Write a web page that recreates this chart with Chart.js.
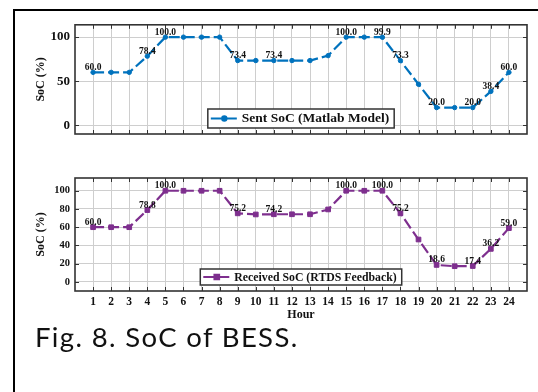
<!DOCTYPE html>
<html>
<head>
<meta charset="utf-8">
<script src="https://cdn.jsdelivr.net/npm/chart.js@4"></script>
<style>
body{margin:0;background:#fff;width:538px;height:392px;overflow:hidden;position:relative}
#frame{position:absolute;left:13px;top:9px;width:600px;height:500px;border-top:2px solid #000;border-left:2px solid #000}
#c1{position:absolute;left:14px;top:12px}
#c2{position:absolute;left:14px;top:160px}
#caption{position:absolute;left:35px;top:323px;font-family:Lato;font-size:27.5px;line-height:27.5px;letter-spacing:1.35px;color:#111;white-space:nowrap}
</style>
</head>
<body>
<div id="frame"></div>
<canvas id="c1" width="524" height="140"></canvas>
<canvas id="c2" width="524" height="170"></canvas>
<div id="caption">Fig. 8. SoC of BESS.</div>
<script>
const hours=[1,2,3,4,5,6,7,8,9,10,11,12,13,14,15,16,17,18,19,20,21,22,23,24]
const sentSoC=[60,60,60,78.4,100,100,100,100,73.4,73.4,73.4,73.4,73.4,79,100,100,99.9,73.3,46.5,20,20,20,38.4,60]
const receivedSoC=[60,60,60,78.8,100,100,100,100,75.2,74,74.2,74.2,74.2,79.5,100,100,100,75.2,46.5,18.6,17.2,17.4,36.2,59]
const labeledHours=[1,4,5,9,11,15,17,18,20,22,23,24]
const yTicksSent=[0,50,100]
const yTicksReceived=[0,20,40,60,80,100]

const serif="Liberation Serif"

// inward tick marks + box around the plot
const frameTicks={
id:"frameTicks",
afterDraw(chart){
const {ctx,chartArea:a,scales}=chart
ctx.save()
ctx.strokeStyle="#333"
ctx.lineWidth=1
ctx.beginPath()
scales.x.ticks.forEach(t=>{
let px=Math.round(scales.x.getPixelForValue(t.value))+0.5
ctx.moveTo(px,a.top);ctx.lineTo(px,a.top+4)
ctx.moveTo(px,a.bottom);ctx.lineTo(px,a.bottom-4)
})
scales.y.ticks.forEach(t=>{
let py=Math.round(scales.y.getPixelForValue(t.value))+0.5
ctx.moveTo(a.left,py);ctx.lineTo(a.left+4,py)
ctx.moveTo(a.right,py);ctx.lineTo(a.right-4,py)
})
ctx.stroke()
ctx.lineWidth=1.6
ctx.strokeRect(a.left,a.top,a.right-a.left,a.bottom-a.top)
ctx.restore()
}
}

const valueLabels={
id:"valueLabels",
afterDatasetsDraw(chart){
const ctx=chart.ctx
const meta=chart.getDatasetMeta(0)
const ds=chart.data.datasets[0]
ctx.save()
ctx.font="bold 9.5px "+serif
ctx.fillStyle="#111"
ctx.textAlign="center"
ctx.textBaseline="alphabetic"
meta.data.forEach((pt,i)=>{
if(!labeledHours.includes(ds.data[i].x)) return
ctx.fillText(ds.data[i].y.toFixed(1),pt.x,pt.y-2.5)
})
ctx.restore()
}
}

const boxLegend={
id:"boxLegend",
afterDraw(chart){
const {ctx,chartArea:a}=chart
const ds=chart.data.datasets[0]
const lg=chart.options.plugins.boxLegend
ctx.save()
ctx.font="bold "+lg.size+"px "+serif
let tw=ctx.measureText(ds.label).width
let w=3+27+4+tw+5
let h=lg.h
let x=(a.left+a.right)/2-w/2
let y=a.bottom-6-h
ctx.fillStyle="#fff"
ctx.fillRect(x,y,w,h)
ctx.strokeStyle="#333"
ctx.lineWidth=1.5
ctx.strokeRect(x,y,w,h)
let cy=y+h/2
ctx.strokeStyle=ds.borderColor
ctx.lineWidth=2
ctx.setLineDash([11,4])
ctx.beginPath()
ctx.moveTo(x+3,cy);ctx.lineTo(x+30,cy)
ctx.stroke()
ctx.setLineDash([])
ctx.fillStyle=ds.borderColor
Chart.helpers.drawPoint(ctx,{pointStyle:ds.pointStyle,radius:ds.pointRadius,rotation:0,borderWidth:1},x+16.5,cy)
ctx.fillStyle="#111"
ctx.textBaseline="middle"
ctx.fillText(ds.label,x+34,cy+0.5)
ctx.restore()
}
}

function makeChart(id,label,values,color,pointStyle,pointRadius,yTicks,cfg){

return new Chart(document.getElementById(id),{

type:"line",

data:{
datasets:[{
label:label,
data:hours.map((h,i)=>({x:h,y:values[i]})),
borderColor:color,
backgroundColor:color,
borderWidth:2.2,
borderDash:[11,4],
pointStyle:pointStyle,
pointRadius:pointRadius,
pointBorderWidth:1,
pointBorderColor:color,
pointBackgroundColor:color,
tension:0
}]
},

options:{
responsive:false,
animation:false,
layout:{padding:{top:cfg.top,right:11,left:0,bottom:0}},
plugins:{legend:{display:false},tooltip:{enabled:false},boxLegend:{size:cfg.legSize,h:cfg.legH}},
scales:{
x:{
type:"linear",min:0,max:25,
afterBuildTicks:s=>{s.ticks=hours.map(v=>({value:v}))},
afterFit:s=>{s.height=cfg.xHeight},
grid:{color:"#cecece",drawTicks:false},
border:{display:false},
ticks:{display:cfg.showX,autoSkip:false,maxRotation:0,padding:4,color:"#111",font:{family:serif,weight:"bold",size:11.5}},
title:{display:cfg.showX,text:"Hour",color:"#111",font:{family:serif,weight:"bold",size:12},padding:{top:0,bottom:8}}
},
y:{
min:-10,max:114,
afterBuildTicks:s=>{s.ticks=yTicks.map(v=>({value:v}))},
afterFit:s=>{s.width=61},
grid:{color:"#cecece",drawTicks:false},
border:{display:false},
ticks:{padding:5,color:"#111",font:{family:serif,weight:"bold",size:cfg.ySize}},
title:{display:true,text:"SoC (%)",color:"#111",font:{family:serif,weight:"bold",size:12},padding:{top:20,bottom:0}}
}
}
},

plugins:[frameTicks,valueLabels,boxLegend]

})

}

makeChart("c1","Sent SoC (Matlab Model)",sentSoC,"#0072BD","circle",2.2,yTicksSent,{top:10,xHeight:18,showX:false,ySize:13,legSize:13.5,legH:19})
makeChart("c2","Received SoC (RTDS Feedback)",receivedSoC,"#7E2F8E","rect",3.3,yTicksReceived,{top:18,xHeight:39,showX:true,ySize:10.5,legSize:11.8,legH:16})
</script>
</body>
</html>
